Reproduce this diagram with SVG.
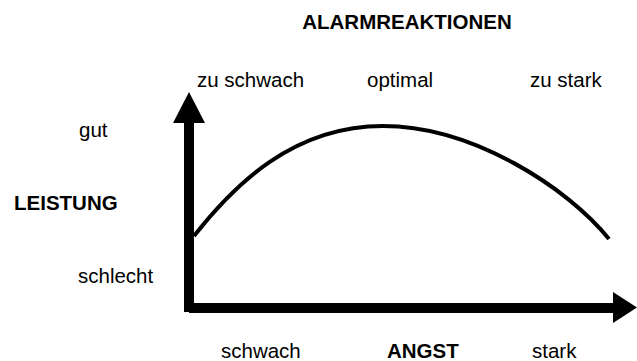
<svg xmlns="http://www.w3.org/2000/svg" width="637" height="361" viewBox="0 0 637 361">
<style>
text{font-family:"Liberation Sans",Arial,sans-serif;font-size:20.5px;fill:#000}
.b{font-weight:bold}
.ax{fill:#000;stroke:none}
.curve{fill:none;stroke:#000;stroke-width:4}
</style>
<rect width="637" height="361" fill="#fff"/>
<g id="title"><text class="b" x="407" y="29" text-anchor="middle">ALARMREAKTIONEN</text></g>
<g id="top-labels">
<text x="197" y="87">zu schwach</text>
<text x="367" y="87">optimal</text>
<text x="530" y="87">zu stark</text>
</g>
<g id="y-labels">
<text x="79" y="137">gut</text>
<text class="b" x="14" y="210">LEISTUNG</text>
<text x="78" y="283">schlecht</text>
</g>
<g id="x-labels">
<text x="221" y="358">schwach</text>
<text class="b" x="387" y="358">ANGST</text>
<text x="532" y="358">stark</text>
</g>
<g id="connectors">
<polygon class="ax" points="184,312 184,123 173,123 189,92 205,123 194,123 194,303 613,303 613,292 637,307.5 613,323 613,313 189,313 189,312"/>
<path class="curve" d="M194,236 C234,185 293,126 383,126 C473,126 568,188 609,239"/>
</g>
</svg>
